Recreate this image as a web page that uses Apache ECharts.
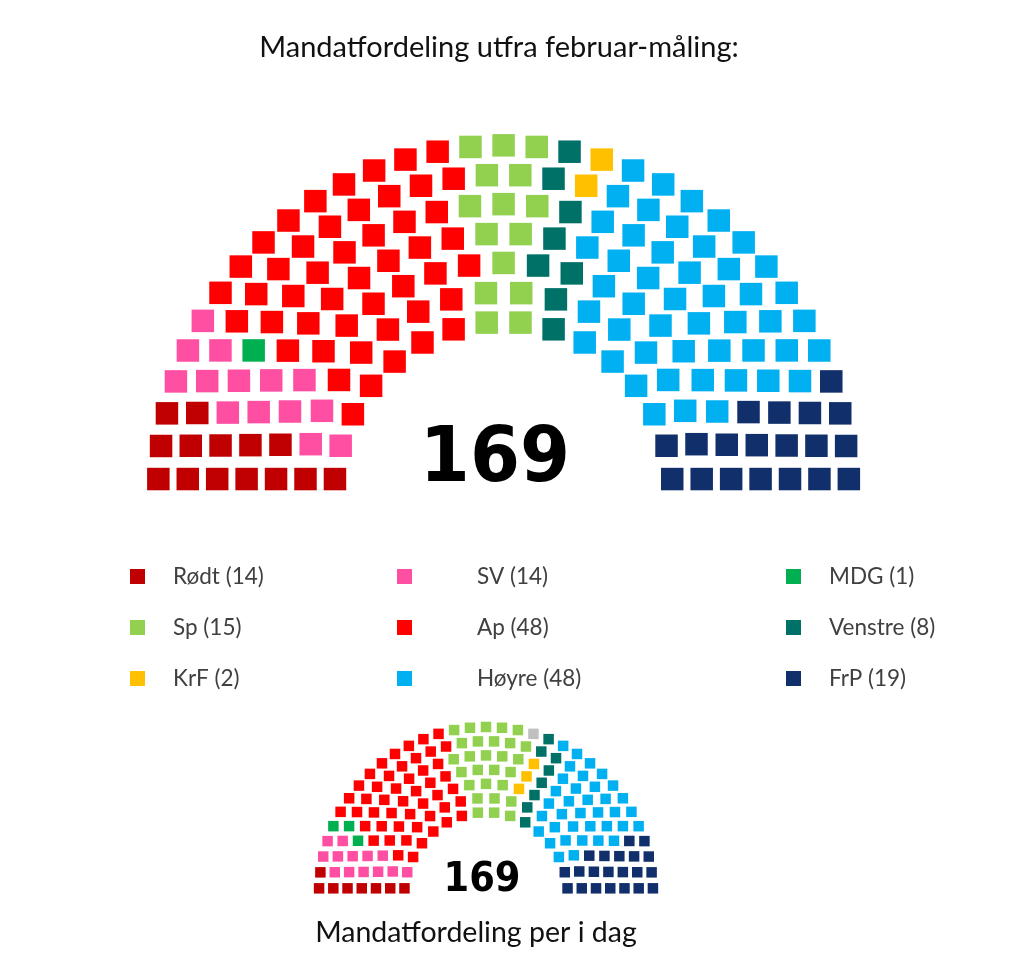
<!DOCTYPE html>
<html>
<head>
<meta charset="utf-8">
<title>Mandatfordeling</title>
<script src="https://cdn.jsdelivr.net/npm/echarts@6/dist/echarts.min.js"></script>
<style>
  html, body { margin: 0; padding: 0; background: #fff; }
  #chart { width: 1028px; height: 959px; }
</style>
</head>
<body>
<div id="chart"></div>
<script>
// februar-måling, partier fra venstre mot høyre
var parties = ['Rødt', 'SV', 'MDG', 'Ap', 'Sp', 'Venstre', 'KrF', 'Høyre', 'FrP'];
var colors = ['#c00000', '#ff4fa3', '#00b050', '#ff0000', '#92d050', '#007167', '#ffc000', '#00b0f0', '#112f6b'];
var seatsFeb = [14, 14, 1, 48, 15, 8, 2, 48, 19];
// mandater per ring (ytterst -> innerst), lest av figuren
var ringsFeb = [
  [3, 3, 2, 2, 2, 1, 1],
  [3, 2, 2, 2, 2, 2, 1],
  [0, 0, 1, 0, 0, 0, 0],
  [9, 9, 7, 7, 6, 5, 5],
  [3, 2, 3, 2, 1, 2, 2],
  [1, 1, 1, 1, 2, 1, 1],
  [1, 1, 0, 0, 0, 0, 0],
  [9, 9, 8, 7, 6, 5, 4],
  [4, 3, 3, 3, 2, 2, 2]
];

// dagens fordeling (med Pasientfokus)
var partiesToday = ['Rødt', 'SV', 'MDG', 'Ap', 'Sp', 'PF', 'KrF', 'Venstre', 'Høyre', 'FrP'];
var colorsToday = ['#c00000', '#ff4fa3', '#00b050', '#ff0000', '#92d050', '#c0c0c0', '#ffc000', '#007167', '#00b0f0', '#112f6b'];
var seatsToday = [8, 13, 3, 48, 28, 1, 3, 8, 36, 21];
var ringsToday = [
  [2, 1, 1, 1, 1, 1, 1],
  [2, 3, 2, 2, 2, 1, 1],
  [1, 1, 1, 0, 0, 0, 0],
  [9, 8, 7, 7, 6, 6, 5],
  [5, 5, 5, 4, 3, 3, 3],
  [1, 0, 0, 0, 0, 0, 0],
  [0, 0, 1, 1, 1, 0, 0],
  [1, 2, 1, 1, 1, 1, 1],
  [8, 6, 6, 5, 4, 4, 3],
  [4, 4, 3, 3, 3, 2, 2]
];

// legend kolonnevis
var legendCols = [['Rødt', 'Sp', 'KrF'], ['SV', 'Ap', 'Høyre'], ['MDG', 'Venstre', 'FrP']];

// ring sizes/angles as in the wikipedia parliament diagram tool
var Totals = [3, 15, 33, 61, 95, 138, 189, 247, 313, 388, 469];

function ringAngles(R, J, rad) {
  if (J === 1) return [Math.PI / 2];
  var s = Math.sin(rad / R);
  var out = [];
  // left to right
  for (var j = J - 1; j >= 0; j--) out.push(j * (Math.PI - 2 * s) / (J - 1) + s);
  return out;
}

function ringLayout(n) {
  var rows = 1;
  for (var i = 0; i < Totals.length; i++) {
    if (Totals[i] >= n) { rows = i + 1; break; }
  }
  var rad = 0.4 / rows;
  var rings = [];
  var used = 0;
  for (var i = 1; i < rows; i++) {
    var R = (3 * rows + 4 * i - 2) / (4 * rows);
    var J = Math.floor(n / Totals[rows - 1] * Math.PI / (2 * Math.asin(2 / (3 * rows + 4 * i - 2))));
    rings.push({ r: R, angles: ringAngles(R, J, rad) });
    used += J;
  }
  var Ro = (7 * rows - 2) / (4 * rows);
  rings.push({ r: Ro, angles: ringAngles(Ro, n - used, rad) });
  return rings.reverse(); // outer first
}

function buildSeries(names, counts, perRing, cols, polarIndex, size) {
  var total = counts.reduce(function (s, v) { return s + v; }, 0);
  var rings = ringLayout(total);
  var data = names.map(function () { return []; });
  rings.forEach(function (ring, ri) {
    var k = 0;
    names.forEach(function (name, p) {
      for (var m = 0; m < perRing[p][ri]; m++, k++) {
        data[p].push([ring.r, ring.angles[k] * 180 / Math.PI]);
      }
    });
  });
  return names.map(function (name, p) {
    return {
      type: 'scatter',
      coordinateSystem: 'polar',
      polarIndex: polarIndex,
      name: name,
      symbol: 'rect',
      symbolSize: size,
      itemStyle: { color: cols[p], opacity: 1 },
      silent: true,
      data: data[p]
    };
  });
}

var legendLeft = [130, 397, 786];
var legendPad = [23, 60, 23];

var myChart = echarts.init(document.getElementById('chart'));
myChart.setOption({
  animation: false,
  backgroundColor: '#fff',
  polar: [
    { center: [503.6, 490.8], radius: 411.6 },
    { center: [486, 894], radius: 199 }
  ],
  radiusAxis: [
    { polarIndex: 0, min: 0, max: 2, show: false },
    { polarIndex: 1, min: 0, max: 2, show: false }
  ],
  angleAxis: [
    { polarIndex: 0, min: 0, max: 360, startAngle: 0, clockwise: false, show: false },
    { polarIndex: 1, min: 0, max: 360, startAngle: 0, clockwise: false, show: false }
  ],
  legend: legendCols.map(function (col, c) {
    return {
      orient: 'vertical',
      left: legendLeft[c],
      top: 551,
      padding: 0,
      itemGap: 0,
      itemWidth: 15,
      itemHeight: 15,
      icon: 'rect',
      selectedMode: false,
      data: col,
      formatter: function (name) {
        return name + ' (' + seatsFeb[parties.indexOf(name)] + ')';
      },
      textStyle: {
        fontFamily: 'Lato',
        fontSize: 22.5,
        color: '#404040',
        lineHeight: 51,
        padding: [0, 0, 0, legendPad[c]]
      }
    };
  }),
  graphic: [
    { type: 'text', x: 499, y: 48, style: { text: 'Mandatfordeling utfra februar-måling:', font: '29px Lato', fill: '#111', textAlign: 'center', textVerticalAlign: 'middle' } },
    { type: 'text', x: 495, y: 461, scaleX: 0.935, style: { text: '169', font: 'bold 77px "DejaVu Sans"', fill: '#000', textAlign: 'center', textVerticalAlign: 'middle' } },
    { type: 'text', x: 482, y: 880, scaleX: 0.9, style: { text: '169', font: 'bold 41px "DejaVu Sans"', fill: '#000', textAlign: 'center', textVerticalAlign: 'middle' } },
    { type: 'text', x: 476, y: 933, style: { text: 'Mandatfordeling per i dag', font: '28.5px Lato', fill: '#111', textAlign: 'center', textVerticalAlign: 'middle' } }
  ],
  series: buildSeries(parties, seatsFeb, ringsFeb, colors, 0, 22.5)
    .concat(buildSeries(partiesToday, seatsToday, ringsToday, colorsToday, 1, 10.5))
});
</script>
</body>
</html>
